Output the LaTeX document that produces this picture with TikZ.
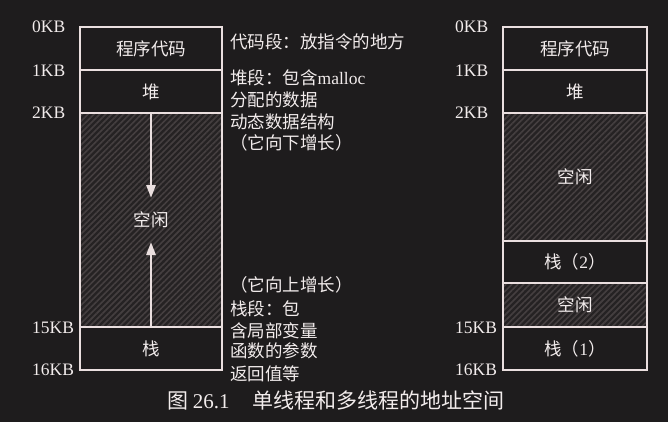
\documentclass[tikz,border=0pt]{standalone}
\usepackage{fontspec}
\setmainfont{Noto Sans CJK SC}
\newfontfamily\lat{Liberation Serif}
\usetikzlibrary{patterns.meta,arrows.meta}
\definecolor{bgc}{HTML}{1E1C1D}
\definecolor{linec}{HTML}{EADFDF}
\definecolor{txtc}{HTML}{F2ECEC}
\definecolor{hatc}{HTML}{453F40}
\definecolor{freebg}{HTML}{252223}
\begin{document}
\begin{tikzpicture}[x=1pt,y=-1pt,
  txt/.style={text=txtc,font=\fontsize{17.5}{21}\selectfont},
  seg/.style={txt,draw=linec,line width=1.8pt,fill=bgc,inner sep=0pt,minimum width=#1},
  freeseg/.style={seg=#1,fill=none,preaction={fill=freebg},
    pattern={Lines[angle=45,distance=4.2pt,line width=1.6pt]},pattern color=hatc},
  kb/.style={txt,font=\lat\fontsize{17.5}{21}\selectfont,inner sep=0pt,anchor=base west},
  note/.style={txt,inner sep=0pt,anchor=base west},
  growarrow/.style={draw=linec,line width=2.7pt,-{Triangle[length=13pt,width=9pt]}}
]
\useasboundingbox[fill=bgc] (0,0) rectangle (668,422);

% ---------- left: single-threaded ----------
\node[freeseg=142pt,minimum height=214pt] (lfree) at (151,220) {空闲};
\node[seg=142pt,minimum height=43pt] (lcode) at (151,48.5) {程序代码};
\node[seg=142pt,minimum height=43pt] (lheap) at (151,91.5) {堆};
\node[seg=142pt,minimum height=43pt] (lstack) at (151,348.5) {栈};

\coordinate (ldown) at (151,198);
\coordinate (lup) at (151,242);
\draw[growarrow] (lheap.south) -- (ldown);
\draw[growarrow] (lstack.north) -- (lup);

\node[kb] (l0) at (32,32.3) {0KB};
\node[kb] (l1) at (32,76.3) {1KB};
\node[kb] (l2) at (32,118.5) {2KB};
\node[kb] (l15) at (32,333) {15KB};
\node[kb] (l16) at (32,375) {16KB};

\node[note] (n1) at (230,48.3) {代码段：放指令的地方};
\node[note] (n2) at (230,84.6) {堆段：包含{\lat malloc}};
\node[note] (n3) at (230,106.6) {分配的数据};
\node[note] (n4) at (230,128.6) {动态数据结构};
\node[note] (n5) at (230,149.6) {（它向下增长）};
\node[note] (n6) at (230,291.6) {（它向上增长）};
\node[note] (n7) at (230,315.6) {栈段：包};
\node[note] (n8) at (230,337.6) {含局部变量};
\node[note] (n9) at (230,357.6) {函数的参数};
\node[note] (n10) at (230,380.6) {返回值等};

% ---------- right: multi-threaded ----------
\node[freeseg=144pt,minimum height=128pt] (rfree1) at (575,177) {空闲};
\node[freeseg=144pt,minimum height=44pt] (rfree2) at (575,305) {空闲};
\node[seg=144pt,minimum height=43pt] (rcode) at (575,48.5) {程序代码};
\node[seg=144pt,minimum height=43pt] (rheap) at (575,91.5) {堆};
\node[seg=144pt,minimum height=42pt] (rstack2) at (575,262) {栈（{\lat 2}）};
\node[seg=144pt,minimum height=43pt] (rstack1) at (575,348.5) {栈（{\lat 1}）};

\node[kb] (r0) at (455,32.3) {0KB};
\node[kb] (r1) at (455,76.3) {1KB};
\node[kb] (r2) at (455,118.5) {2KB};
\node[kb] (r15) at (455,333) {15KB};
\node[kb] (r16) at (455,375) {16KB};

% ---------- caption ----------
\node[txt,inner sep=0pt,anchor=base west,font=\fontsize{21}{25}\selectfont] (cap) at (167,408)
  {图 {\lat 26.1}\hspace{23pt}单线程和多线程的地址空间};
\end{tikzpicture}
\end{document}
